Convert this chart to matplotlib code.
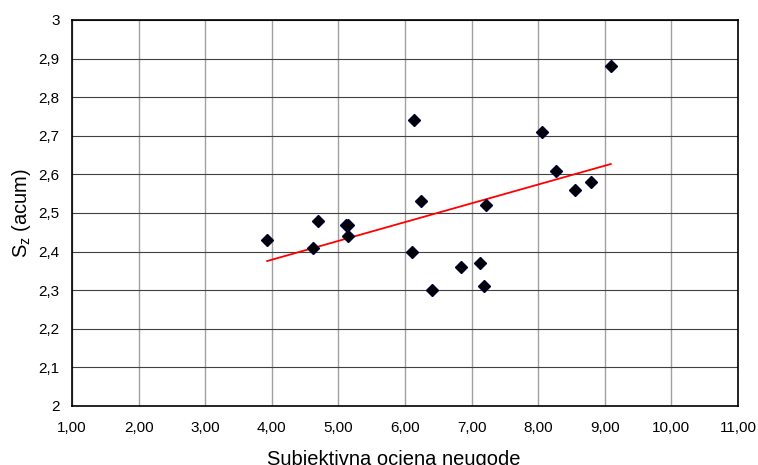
import numpy as np
import matplotlib.pyplot as plt

plt.rcParams['font.family'] = ['Liberation Sans', 'DejaVu Sans']
plt.rcParams['mathtext.fontset'] = 'custom'
plt.rcParams['mathtext.rm'] = 'Liberation Sans'

# podaci (ocitano s grafa)
ocjena = [3.93, 4.62, 4.69, 5.11, 5.15, 5.15, 6.13, 6.24, 6.11, 6.40,
          6.84, 7.13, 7.19, 7.21, 8.06, 8.27, 8.56, 8.80, 9.09]
sz = [2.43, 2.41, 2.48, 2.47, 2.47, 2.44, 2.74, 2.53, 2.40, 2.30,
      2.36, 2.37, 2.31, 2.52, 2.71, 2.61, 2.56, 2.58, 2.88]

x_ticks = [1, 2, 3, 4, 5, 6, 7, 8, 9, 10, 11]
x_labels = ['1,00', '2,00', '3,00', '4,00', '5,00', '6,00', '7,00', '8,00', '9,00', '10,00', '11,00']
y_ticks = [2.0, 2.1, 2.2, 2.3, 2.4, 2.5, 2.6, 2.7, 2.8, 2.9, 3.0]
y_labels = ['2', '2,1', '2,2', '2,3', '2,4', '2,5', '2,6', '2,7', '2,8', '2,9', '3']

fig = plt.figure(figsize=(7.58, 4.65), dpi=100)
ax = fig.add_axes([0.095, 0.127, 0.8786, 0.830])

# linearni trend
k, b = np.polyfit(ocjena, sz, 1)
xt = np.array([min(ocjena), max(ocjena)])
ax.plot(xt, k * xt + b, color='#ff0000', lw=1.3, zorder=3)

ax.plot(ocjena, sz, 'D', color='black', markeredgecolor='#000033',
        markersize=6.5, zorder=4)

ax.set_xlim(1, 11)
ax.set_ylim(2, 3)
ax.set_xticks(x_ticks)
ax.set_xticklabels(x_labels)
ax.set_yticks(y_ticks)
ax.set_yticklabels(y_labels)
ax.tick_params(length=0, labelsize=11)
ax.tick_params(axis='x', pad=11)
ax.tick_params(axis='y', pad=9)

ax.xaxis.grid(True, color='#a0a0a0', lw=1)
ax.yaxis.grid(True, color='#404040', lw=0.8)
ax.set_axisbelow(True)
for s in ax.spines.values():
    s.set_color('black')
    s.set_linewidth(1.2)

ax.set_xlabel('Subjektivna ocjena neugode', fontsize=14.5)
ax.xaxis.set_label_coords(0.483, -0.113, transform=ax.transAxes)
ax.xaxis.label.set_va('top')
ax.set_ylabel('$\\mathregular{S_z}$ (acum)', fontsize=14.5)
ax.yaxis.set_label_coords(-0.058, 0.5)

fig.savefig('out.png', dpi=100)
